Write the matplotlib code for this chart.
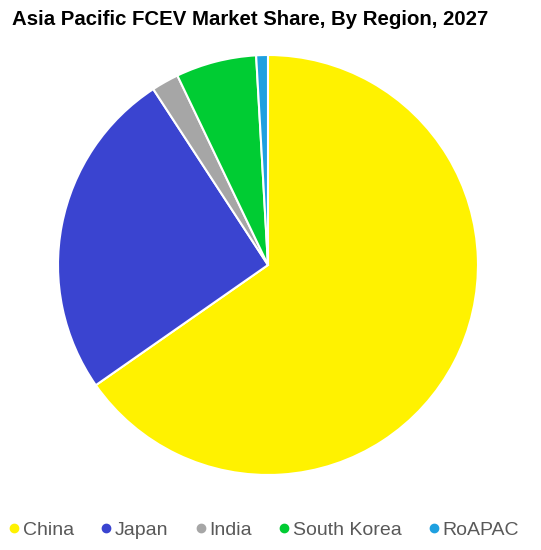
import matplotlib
matplotlib.use("Agg")
import matplotlib.pyplot as plt
from matplotlib.lines import Line2D

plt.rcParams['font.family'] = ['Liberation Sans', 'DejaVu Sans']

# data (share in %)
regions = ['China', 'Japan', 'India', 'South Korea', 'RoAPAC']
share = [65.3, 25.5, 2.1, 6.2, 0.9]
colors = ['#FFF200', '#3A44D0', '#A6A6A6', '#00CC33', '#1EA0E0']

fig = plt.figure(figsize=(5.41, 5.50), dpi=100)
ax = fig.add_axes([0.1072, 0.1364, 0.7763, 0.7636])
ax.pie(share, colors=colors, startangle=90, counterclock=False,
       radius=1, wedgeprops=dict(edgecolor='white', linewidth=1.5))
ax.set_xlim(-1, 1)
ax.set_ylim(-1, 1)
ax.set_aspect('equal')
ax.axis('off')

fig.text(0.462, 0.964, 'Asia Pacific FCEV Market Share, By Region, 2027',
         ha='center', va='center', fontsize=14.7, fontweight='bold', color='black')

handles = [Line2D([0], [0], marker='o', linestyle='', markersize=6,
                  markerfacecolor=c, markeredgecolor=c) for c in colors]
leg = fig.legend(handles, regions, loc='center', bbox_to_anchor=(0.485, 0.036),
                 ncol=5, frameon=False, fontsize=14, handletextpad=0.0,
                 columnspacing=1.2, handlelength=0.9, labelcolor='#595959')

fig.savefig('out.png', dpi=100)
